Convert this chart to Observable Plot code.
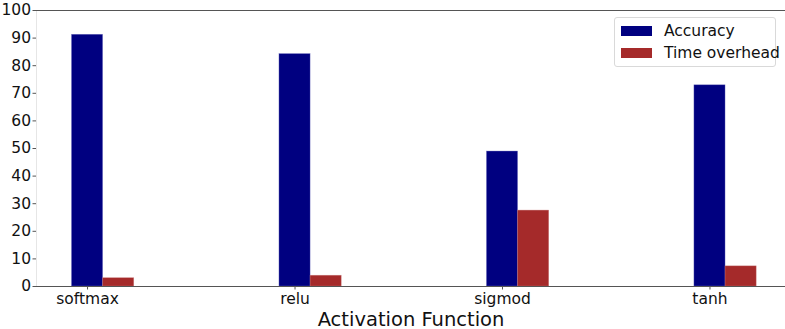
<!DOCTYPE html>
<html><head><meta charset="utf-8">
<script src="https://cdn.jsdelivr.net/npm/d3@7"></script>
<script src="https://cdn.jsdelivr.net/npm/@observablehq/plot@0.6"></script>
<style>
body{margin:0;background:#fff;font-family:"DejaVu Sans",sans-serif}
#chart{position:relative;width:785px;height:329px}
.legend{position:absolute;left:614px;top:17px;width:162px;height:50px;border:1px solid #d9d9d9;border-radius:3px;background:rgba(255,255,255,0.85);box-sizing:border-box;font-size:15.5px;color:#111}
.legend .row{position:absolute;left:6px;display:flex;align-items:center;white-space:nowrap}
.legend .sw{width:31px;height:10px;margin-right:12px;flex:none}
g[aria-label="x-axis label"] text{font-size:19.5px}
</style>
</head><body>
<div id="chart"></div>
<script>
const categories = ["softmax", "relu", "sigmod", "tanh"];
const accuracy = [91.2, 84.2, 48.9, 72.9];
const timeOverhead = [3.0, 3.9, 27.5, 7.3];
const yTicks = [0, 10, 20, 30, 40, 50, 60, 70, 80, 90, 100];
const seriesNames = ["Accuracy", "Time overhead"];
const colors = ["#000080", "#a52a2a"];

const barW = 0.15;
const accRows = categories.map((c, i) => ({i, v: accuracy[i]}));
const timeRows = categories.map((c, i) => ({i, v: timeOverhead[i]}));
const xDomain = [-0.246, 3.364];

const plot = Plot.plot({
  width: 785, height: 329,
  marginLeft: 36, marginRight: 0, marginTop: 10, marginBottom: 43,
  style: {fontFamily: "DejaVu Sans, sans-serif", fontSize: "15.5px", color: "#111", background: "#fff"},
  x: {type: "linear", domain: xDomain},
  y: {domain: [0, 100]},
  marks: [
    Plot.ruleX([xDomain[0]], {stroke: "#e6e6e6"}),
    Plot.rectY(accRows, {x1: d => d.i - barW / 2, x2: d => d.i + barW / 2, y: "v", fill: colors[0], stroke: "#6f6fbf", strokeWidth: 0.6, strokeOpacity: 0.6}),
    Plot.rectY(timeRows, {x1: d => d.i + barW / 2, x2: d => d.i + barW * 1.5, y: "v", fill: colors[1], stroke: "#c97a7a", strokeWidth: 0.6, strokeOpacity: 0.6}),
    Plot.ruleY([0], {stroke: "#555", strokeWidth: 1.2}),
    Plot.ruleY([100], {stroke: "#555", strokeWidth: 1.2}),
    Plot.axisY({ticks: yTicks, tickSize: 3.5, tickPadding: 2, label: null, stroke: "#555"}),
    Plot.axisX({ticks: [0, 1, 2, 3], tickFormat: i => categories[i], tickSize: 3.5, tickPadding: 3, stroke: "#555",
      label: "Activation Function", labelAnchor: "center", labelArrow: "none", labelOffset: 39})
  ]
});
const chart = document.getElementById("chart");
chart.appendChild(plot);

const legend = document.createElement("div");
legend.className = "legend";
seriesNames.forEach((name, k) => {
  const row = document.createElement("div");
  row.className = "row";
  row.style.top = (k === 0 ? 4 : 26) + "px";
  const sw = document.createElement("div");
  sw.className = "sw";
  sw.style.background = colors[k];
  const t = document.createElement("span");
  t.textContent = name;
  row.appendChild(sw); row.appendChild(t);
  legend.appendChild(row);
});
chart.appendChild(legend);
</script>
</body></html>
